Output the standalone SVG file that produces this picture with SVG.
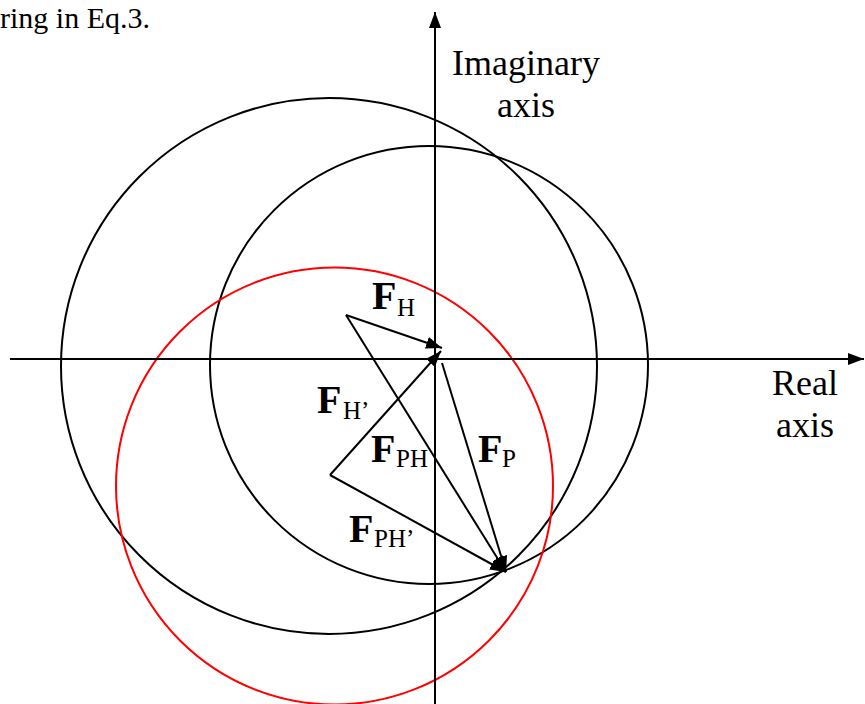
<svg xmlns="http://www.w3.org/2000/svg" width="865" height="704" viewBox="0 0 865 704">
<style>
.ln{stroke:#000;stroke-width:2;fill:none}
.red{stroke:#f00;stroke-width:2;fill:none}
.t{font-family:"Liberation Serif",serif;fill:#000}
.F{font-family:"Liberation Serif",serif;font-weight:bold;font-size:40px;fill:#000}
.s{font-family:"Liberation Serif",serif;font-size:25px;fill:#000}
</style>
<defs>
<marker id="ah" viewBox="0 0 16 12" refX="16" refY="6" markerWidth="16" markerHeight="12" markerUnits="userSpaceOnUse" orient="auto">
<path d="M0,0 L16,6 L0,12 Z" fill="#000"/>
</marker>
</defs>
<rect width="865" height="704" fill="#fff"/>
<text class="t" x="0" y="28" font-size="30">ring in Eq.3.</text>
<g id="circles">
<circle class="ln" cx="329" cy="366" r="268"/>
<circle class="ln" cx="429" cy="365" r="219"/>
<circle class="red" cx="334.5" cy="486" r="218.5"/>
</g>
<g id="axes">
<line class="ln" x1="10" y1="359" x2="864" y2="359" marker-end="url(#ah)"/>
<line class="ln" x1="435" y1="704" x2="435" y2="12" marker-end="url(#ah)"/>
<text class="t" x="526" y="75" font-size="36" text-anchor="middle">Imaginary</text>
<text class="t" x="526" y="117" font-size="36" text-anchor="middle">axis</text>
<text class="t" x="805" y="395" font-size="36" text-anchor="middle">Real</text>
<text class="t" x="805" y="437" font-size="36" text-anchor="middle">axis</text>
</g>
<g id="connectors">
<line class="ln" x1="346" y1="315" x2="442" y2="348" marker-end="url(#ah)"/>
<line class="ln" x1="330" y1="475" x2="441" y2="351" marker-end="url(#ah)"/>
<line class="ln" x1="346" y1="315" x2="506" y2="572" marker-end="url(#ah)"/>
<line class="ln" x1="330" y1="475" x2="506" y2="572" marker-end="url(#ah)"/>
<line class="ln" x1="442" y1="363" x2="506" y2="572" marker-end="url(#ah)"/>
</g>
<g id="label-FH"><text class="F" x="372" y="309">F</text><text class="s" x="397" y="316">H</text></g>
<g id="label-FH2"><text class="F" x="317" y="413">F</text><text class="s" x="343" y="419">H’</text></g>
<g id="label-FPH"><text class="F" x="371" y="462">F</text><text class="s" x="396" y="467">PH</text></g>
<g id="label-FP"><text class="F" x="478" y="462">F</text><text class="s" x="502" y="467">P</text></g>
<g id="label-FPH2"><text class="F" x="349" y="542">F</text><text class="s" x="374" y="547">PH’</text></g>
</svg>
